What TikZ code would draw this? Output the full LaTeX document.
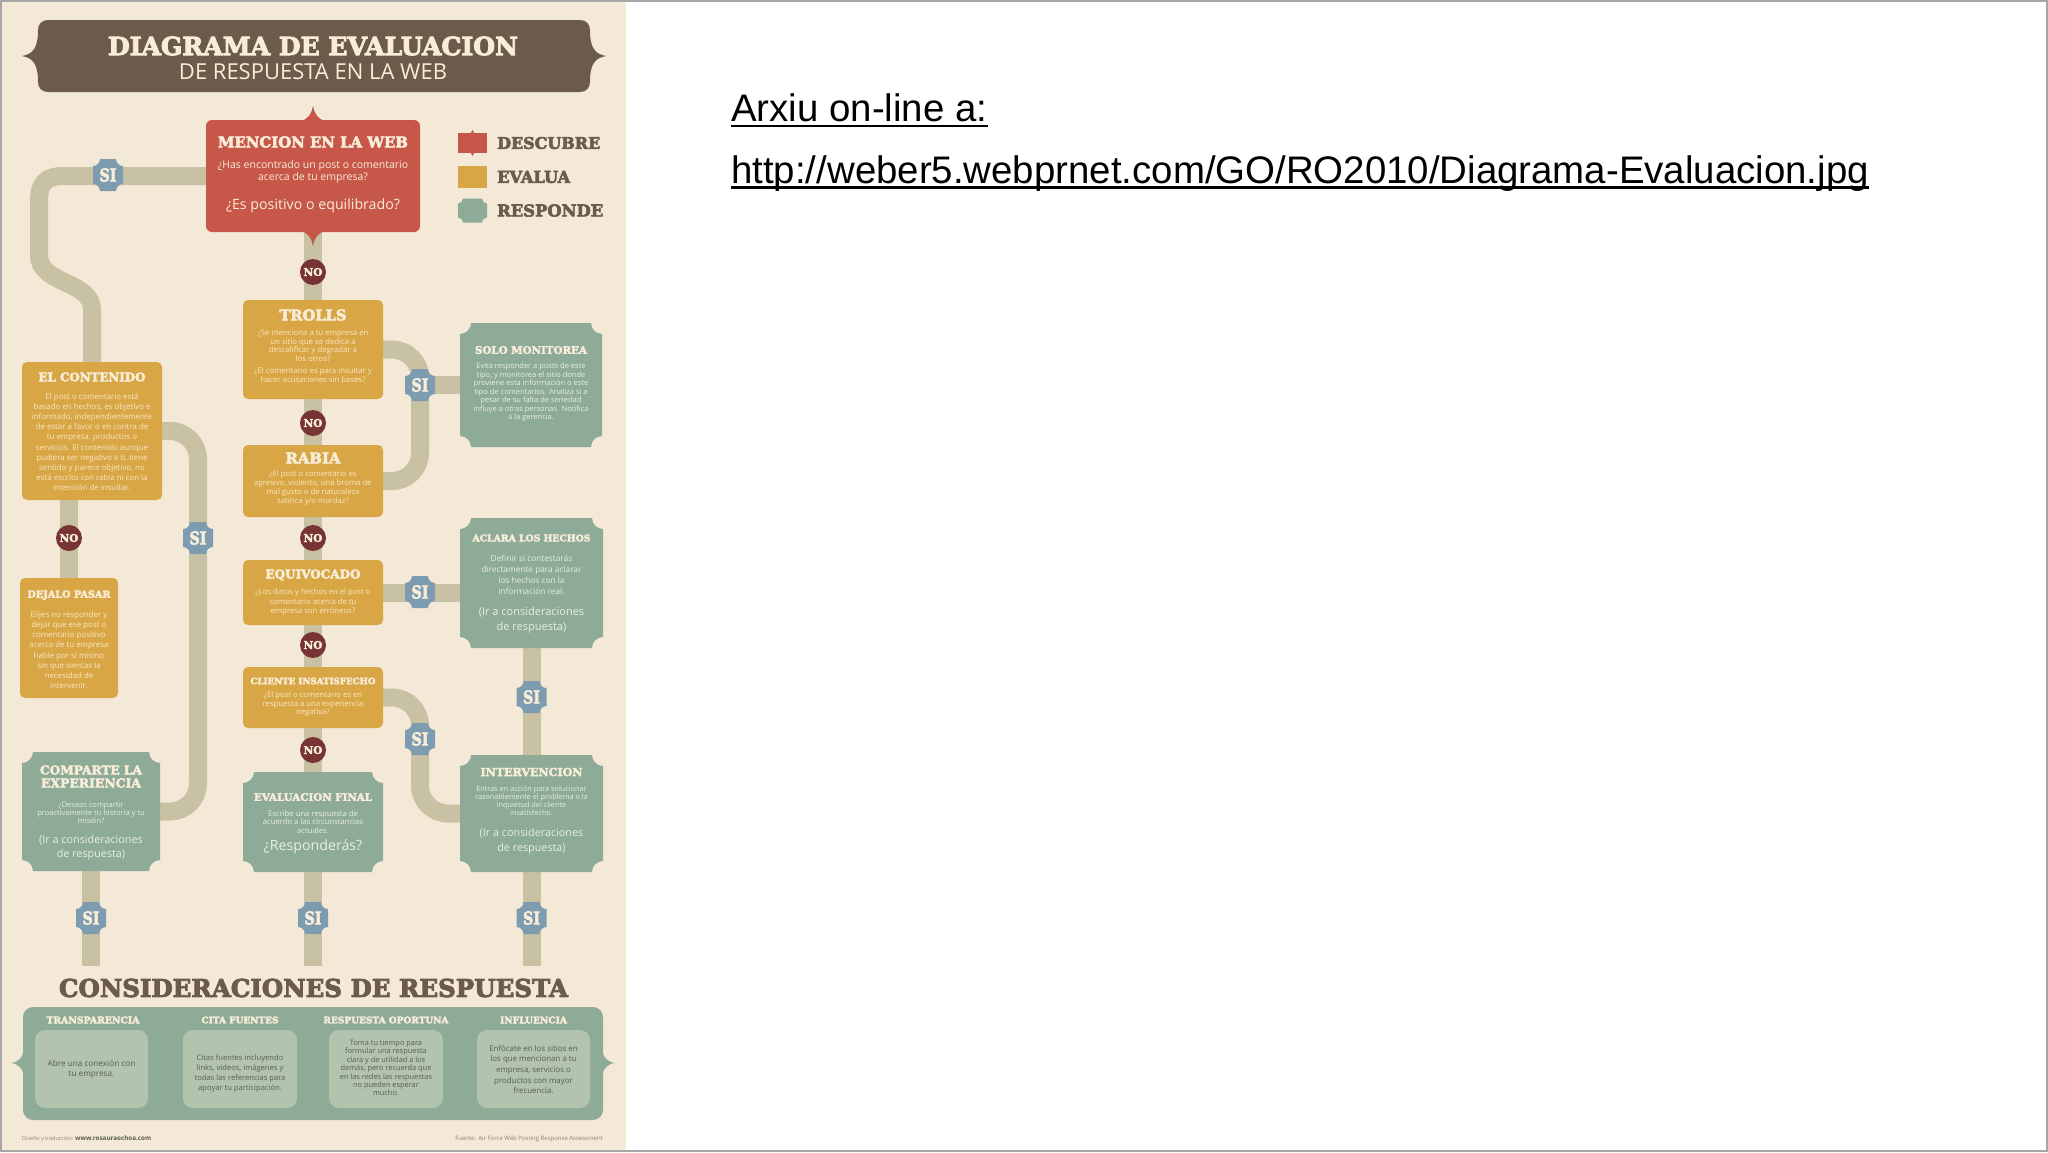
\documentclass[tikz,border=0pt]{standalone}
\usepackage{fontspec}
\usepackage{graphicx}
\setmainfont{Open Sans}
\newfontfamily\slab{DejaVu Serif}[BoldFeatures={FakeBold=3.5}]
\newfontfamily\arialf{Liberation Sans}
\usetikzlibrary{calc}
\definecolor{cream}{HTML}{F4E8D6}
\definecolor{brn}{HTML}{6C5B4B}
\definecolor{redc}{HTML}{C65749}
\definecolor{yel}{HTML}{D9A646}
\definecolor{grn}{HTML}{8DAB97}
\definecolor{grnl}{HTML}{B2C4AD}
\definecolor{sib}{HTML}{7D9CB0}
\definecolor{noc}{HTML}{783434}
\definecolor{connc}{HTML}{C9C1A3}
\definecolor{ttlc}{HTML}{F8EDD8}
\definecolor{ytxt}{HTML}{F8E7C3}
\definecolor{gtxt}{HTML}{E8EFE3}
\definecolor{dtxt}{HTML}{595D50}
\definecolor{foot}{HTML}{8A8478}
\pgfdeclarelayer{bgl}
\pgfdeclarelayer{conn}
\pgfsetlayers{bgl,conn,main}
\newcommand\fitt[2]{\resizebox{#1pt}{!}{\slab\bfseries #2}}
\newcommand\concbox[7]{%
 \pgfmathsetmacro\cbxa{#2-#4/2}\pgfmathsetmacro\cbxb{#2+#4/2}%
 \pgfmathsetmacro\cbya{#3-#5/2}\pgfmathsetmacro\cbyb{#3+#5/2}%
 \pgfmathsetmacro\cbr{#6}\pgfmathsetmacro\cbk{0.55*#6}%
 \fill[#7] ({\cbxa+\cbr},\cbya) -- ({\cbxb-\cbr},\cbya)
   .. controls ({\cbxb-\cbr},{\cbya+\cbk}) and ({\cbxb-\cbk},{\cbya+\cbr}) .. (\cbxb,{\cbya+\cbr})
   -- (\cbxb,{\cbyb-\cbr})
   .. controls ({\cbxb-\cbk},{\cbyb-\cbr}) and ({\cbxb-\cbr},{\cbyb-\cbk}) .. ({\cbxb-\cbr},\cbyb)
   -- ({\cbxa+\cbr},\cbyb)
   .. controls ({\cbxa+\cbr},{\cbyb-\cbk}) and ({\cbxa+\cbk},{\cbyb-\cbr}) .. (\cbxa,{\cbyb-\cbr})
   -- (\cbxa,{\cbya+\cbr})
   .. controls ({\cbxa+\cbk},{\cbya+\cbr}) and ({\cbxa+\cbr},{\cbya+\cbk}) .. ({\cbxa+\cbr},\cbya) -- cycle;
 \node[inner sep=0pt, minimum width=#4pt, minimum height=#5pt] (#1) at (#2,#3) {};}
\newcommand\sibadge[3]{\concbox{#1}{#2}{#3}{30}{32}{7}{sib}%
 \node[inner sep=0pt, text=ttlc] (#1-l) at (#2,#3) {\resizebox{17pt}{13pt}{\slab\bfseries SI}};}
\begin{document}
\begin{tikzpicture}[x=1pt,y=-1pt,
 conn/.style={draw=connc, line width=18pt},
 ybox/.style={fill=yel, rounded corners=5pt, inner sep=0pt},
 nob/.style={circle, fill=noc, minimum size=26pt, inner sep=0pt, text=ttlc, font=\fontsize{10.5}{11}\slab\bfseries},
 tx/.style={inner sep=0pt, align=center},
 ttl/.style={inner sep=0pt, text=ttlc},
 yb/.style={tx, text=ytxt},
 gb/.style={tx, text=gtxt},
 ib/.style={fill=grnl, rounded corners=10pt, inner sep=0pt, minimum height=78pt},
 db/.style={tx, text=dtxt},
 lbl/.style={inner sep=0pt, anchor=west, text=brn}]
\useasboundingbox (0,0) rectangle (2048,1152);
\begin{pgfonlayer}{bgl}
\fill[white] (0,0) rectangle (2048,1152);
\fill[cream] (0,0) rectangle (626,1152);
\draw[gray!70, line width=2pt] (1,1) rectangle (2047,1151);
\end{pgfonlayer}

% title banner
\fill[brn] (48,20) -- (580,20) .. controls (586,20) and (590,24) .. (590,30)
  .. controls (590,48) and (595,54) .. (606,56) .. controls (595,58) and (590,64) .. (590,82)
  .. controls (590,88) and (586,92) .. (580,92) -- (48,92)
  .. controls (42,92) and (38,88) .. (38,82) .. controls (38,64) and (33,58) .. (22,56)
  .. controls (33,54) and (38,48) .. (38,30) .. controls (38,24) and (42,20) .. (48,20) -- cycle;
\node[ttl] (title) at (313,46) {\fitt{410}{DIAGRAMA DE EVALUACION}};
\node[ttl] (subtitle) at (313,72) {\resizebox{268pt}{!}{DE RESPUESTA EN LA WEB}};

% mencion
\node[fill=redc, rounded corners=6pt, minimum width=214pt, minimum height=112pt, inner sep=0pt] (mencion) at (313,176) {};
\fill[redc] (300,121) .. controls (308,120) and (312,113) .. (313,106) .. controls (314,113) and (318,120) .. (326,121) -- cycle;
\fill[redc] (300,231) .. controls (308,232) and (312,239) .. (313,246) .. controls (314,239) and (318,232) .. (326,231) -- cycle;
\node[ttl] (mencion-t) at (313,142) {\fitt{190}{MENCION EN LA WEB}};
\node[tx, text=ttlc, font=\fontsize{10.5}{12}\selectfont] (mencion-b) at (313,172) {¿Has encontrado un post o comentario\\acerca de tu empresa?};
\node[tx, text=ttlc, font=\fontsize{14.2}{15}\selectfont] (mencion-q) at (313,205.5) {¿Es positivo o equilibrado?};

% legend
\node[fill=redc, minimum width=29pt, minimum height=20pt, inner sep=0pt] (lgr) at (472.5,143) {};
\fill[redc] (468,134) .. controls (471,133.5) and (472,132) .. (472.5,130) .. controls (473,132) and (474,133.5) .. (477,134) -- cycle;
\fill[redc] (468,152) .. controls (471,152.5) and (472,154) .. (472.5,156) .. controls (473,154) and (474,152.5) .. (477,152) -- cycle;
\node[fill=yel, minimum width=29pt, minimum height=22pt, inner sep=0pt] (lgy) at (472.5,177) {};
\concbox{lgg}{472.5}{210.5}{29}{24}{5}{grn}
\node[lbl] (lgr-t) at (497,143) {\fitt{103}{DESCUBRE}};
\node[lbl] (lgy-t) at (497,177) {\fitt{73}{EVALUA}};
\node[lbl] (lgg-t) at (497,210.5) {\fitt{106}{RESPONDE}};

% central column
\node[ybox, minimum width=140pt, minimum height=99pt] (trolls) at (313,349.5) {};
\node[ttl] (trolls-t) at (313,315) {\fitt{67}{TROLLS}};
\node[yb, font=\fontsize{7.8}{8.8}\selectfont] (trolls-b) at (313,356) {¿Se menciona a tu empresa en\\un sitio que se dedica a\\descalificar y degradar a\\los otros?\\[3pt]¿El comentario es para insultar y\\hacer acusaciones sin bases?};

\node[ybox, minimum width=140pt, minimum height=72pt] (rabia) at (313,481) {};
\node[ttl] (rabia-t) at (313,458) {\fitt{55}{RABIA}};
\node[yb, font=\fontsize{7.7}{9.3}\selectfont] (rabia-b) at (313,488) {¿El post o comentario es\\agresivo, violento, una broma de\\mal gusto o de naturaleza\\satírica y/o mordaz?};

\node[ybox, minimum width=140pt, minimum height=65pt] (equiv) at (313,592.5) {};
\node[ttl] (equiv-t) at (313,575) {\fitt{95}{EQUIVOCADO}};
\node[yb, font=\fontsize{7.7}{9.2}\selectfont] (equiv-b) at (313,602) {¿Los datos y hechos en el post o\\comentario acerca de tu\\empresa son erróneos?};

\node[ybox, minimum width=140pt, minimum height=61pt] (cliente) at (313,697.5) {};
\node[ttl] (cliente-t) at (313,681) {\fitt{125}{CLIENTE INSATISFECHO}};
\node[yb, font=\fontsize{7.7}{8.7}\selectfont] (cliente-b) at (313,704) {¿El post o comentario es en\\respuesta a una experiencia\\negativa?};

\concbox{evalf}{313}{822}{140}{100}{11}{grn}
\node[ttl] (evalf-t) at (313,797) {\fitt{118}{EVALUACION FINAL}};
\node[gb, font=\fontsize{7.7}{8.7}\selectfont] (evalf-b) at (313,822) {Escribe una respuesta de\\acuerdo a las circunstancias\\actuales.};
\node[gb, font=\fontsize{14.2}{16}\selectfont] (evalf-q) at (313,847) {¿Responderás?};

% left column
\node[ybox, minimum width=140pt, minimum height=138pt] (contenido) at (92,431) {};
\node[ttl] (contenido-t) at (92,377) {\fitt{107}{EL CONTENIDO}};
\node[yb, font=\fontsize{7.9}{10.2}\selectfont] (contenido-b) at (92,442) {El post o comentario está\\basado en hechos, es objetivo e\\informado, independientemente\\de estar a favor o en contra de\\tu empresa, productos o\\servicios. El contenido aunque\\pudiera ser negativo a ti, tiene\\sentido y parece objetivo, no\\está escrito con rabia ni con la\\intención de insultar.};

\node[ybox, minimum width=98pt, minimum height=120pt] (dejalo) at (69,638) {};
\node[ttl] (dejalo-t) at (69,595) {\fitt{83}{DEJALO PASAR}};
\node[yb, font=\fontsize{7.9}{10.2}\selectfont] (dejalo-b) at (69,650) {Elijes no responder y\\dejar que ese post o\\comentario positivo\\acerca de tu empresa\\hable por sí mismo\\sin que sientas la\\necesidad de\\intervenir.};

\concbox{comparte}{91}{811.5}{138}{119}{11}{grn}
\node[ttl] (comparte-t1) at (91,770) {\fitt{102}{COMPARTE LA}};
\node[ttl] (comparte-t2) at (91,783) {\fitt{100}{EXPERIENCIA}};
\node[gb, font=\fontsize{7.5}{8.2}\selectfont] (comparte-b) at (91,813) {¿Deseas compartir\\proactivamente tu historia y tu\\misión?};
\node[gb, font=\fontsize{10.8}{14.5}\selectfont] (comparte-c) at (91,847.5) {(Ir a consideraciones\\de respuesta)};

% right column
\concbox{solo}{531}{385}{142}{124}{11}{grn}
\node[ttl] (solo-t) at (531,350) {\fitt{112}{SOLO MONITOREA}};
\node[gb, font=\fontsize{7.5}{8.5}\selectfont] (solo-b) at (531,392.5) {Evita responder a posts de este\\tipo, y monitorea el sitio donde\\proviene esta información o este\\tipo de comentarios. Analiza si a\\pesar de su falta de seriedad\\influye a otras personas. Notifica\\a la gerencia.};

\concbox{aclara}{531.5}{583}{143}{130}{11}{grn}
\node[ttl] (aclara-t) at (531.5,538) {\fitt{118}{ACLARA LOS HECHOS}};
\node[gb, font=\fontsize{8.3}{11}\selectfont] (aclara-b) at (531.5,575) {Definir si contestarás\\directamente para aclarar\\los hechos con la\\información real.};
\node[gb, font=\fontsize{11}{15}\selectfont] (aclara-c) at (531.5,620) {(Ir a consideraciones\\de respuesta)};

\concbox{interv}{531.5}{813.5}{143}{117}{11}{grn}
\node[ttl] (interv-t) at (531.5,772) {\fitt{102}{INTERVENCION}};
\node[gb, font=\fontsize{7.3}{7.9}\selectfont] (interv-b) at (531.5,800.5) {Entras en acción para solucionar\\razonablemente el problema o la\\inquietud del cliente\\insatisfecho.};
\node[gb, font=\fontsize{10.8}{15}\selectfont] (interv-c) at (531.5,841) {(Ir a consideraciones\\de respuesta)};

% badges
\node[nob] (no1) at (313,272) {NO};
\node[nob] (no2) at (313,423) {NO};
\node[nob] (no3) at (313,538) {NO};
\node[nob] (no4) at (69,538) {NO};
\node[nob] (no5) at (313,645) {NO};
\node[nob] (no6) at (313,750) {NO};
\sibadge{si1}{108}{175}
\sibadge{si2}{420}{385}
\sibadge{si3}{198}{538}
\sibadge{si4}{420}{592}
\sibadge{si5}{531.5}{697}
\sibadge{si6}{420}{739}
\sibadge{si7}{91}{918}
\sibadge{si8}{313}{918}
\sibadge{si9}{531.5}{918}

\coordinate (e1) at (91,966);
\coordinate (e2) at (313,966);
\coordinate (e3) at (531.5,966);

% considerations
\node[text=brn, inner sep=0pt] (consh) at (313.5,988) {\fitt{509}{CONSIDERACIONES DE RESPUESTA}};
\node[fill=grn, rounded corners=10pt, minimum width=580pt, minimum height=113pt, inner sep=0pt] (cons) at (313,1063.5) {};
\fill[grn] (24,1046) .. controls (24,1057) and (19,1062) .. (11,1063) .. controls (19,1064) and (24,1069) .. (24,1080) -- cycle;
\fill[grn] (602,1046) .. controls (602,1057) and (607,1062) .. (615,1063) .. controls (607,1064) and (602,1069) .. (602,1080) -- cycle;
\node[ttl] (h1) at (93,1020) {\fitt{93}{TRANSPARENCIA}};
\node[ttl] (h2) at (240,1020) {\fitt{77}{CITA FUENTES}};
\node[ttl] (h3) at (386,1020) {\fitt{125}{RESPUESTA OPORTUNA}};
\node[ttl] (h4) at (533.5,1020) {\fitt{67}{INFLUENCIA}};
\node[ib, minimum width=113pt] (c1) at (91.5,1069) {};
\node[ib, minimum width=114pt] (c2) at (240,1069) {};
\node[ib, minimum width=114pt] (c3) at (386,1069) {};
\node[ib, minimum width=113pt] (c4) at (533.5,1069) {};
\node[db, font=\fontsize{8.2}{9.8}\selectfont] (c1-t) at (c1) {Abre una conexión con\\tu empresa.};
\node[db, font=\fontsize{7.6}{10}\selectfont] (c2-t) at (240,1073) {Citas fuentes incluyendo\\links, videos, imágenes y\\todas las referencias para\\apoyar tu participación.};
\node[db, font=\fontsize{7.4}{8.4}\selectfont] (c3-t) at (386,1068) {Toma tu tiempo para\\formular una respuesta\\clara y de utilidad a los\\demás, pero recuerda que\\en las redes las respuestas\\no pueden esperar\\mucho.};
\node[db, font=\fontsize{7.9}{10.7}\selectfont] (c4-t) at (533.5,1069.5) {Enfócate en los sitios en\\los que mencionan a tu\\empresa, servicios o\\productos con mayor\\frecuencia.};

% footers
\node[inner sep=0pt, anchor=west, text=foot, font=\fontsize{5.4}{6}\selectfont] (f1) at (22,1139) {Diseño y traducción: \textcolor{dtxt}{\fontsize{6.3}{7}\selectfont\bfseries www.rosauraochoa.com}};
\node[inner sep=0pt, anchor=east, text=foot, font=\fontsize{6}{7}\selectfont] (f2) at (603,1139) {Fuente: Air Force Web Posting Response Assessment};

% connectors
\begin{pgfonlayer}{conn}
\draw[conn] (mencion.west) -- (64,176) .. controls (46,176) and (39,183) .. (39,201) -- (39,255)
  .. controls (39,285) and (92,280) .. (92,310) -- (contenido.north);
\draw[conn, rounded corners=28pt] (contenido.east) -| (198,700) |- (comparte.east);
\draw[conn] (contenido.south -| dejalo.north) -- (dejalo.north);
\draw[conn] (mencion.south) -- (trolls.north);
\draw[conn] (trolls.south) -- (rabia.north);
\draw[conn] (rabia.south) -- (equiv.north);
\draw[conn] (equiv.south) -- (cliente.north);
\draw[conn] (cliente.south) -- (evalf.north);
\draw[conn] (evalf.south) -- (e2);
\draw[conn, rounded corners=28pt] (trolls.east) -| (420,420) |- (rabia.east);
\draw[conn] (si2) -- (solo.west);
\draw[conn] (equiv.east) -- (equiv.east -| aclara.west);
\draw[conn] (aclara.south) -- (interv.north);
\draw[conn, rounded corners=28pt] (cliente.east) -| (420,760) |- (interv.west);
\draw[conn] (comparte.south) -- (e1);
\draw[conn] (interv.south) -- (e3);
\end{pgfonlayer}

% slide text
\node[anchor=base west, inner sep=0pt, font=\arialf\fontsize{38.4}{46}\selectfont, text=black] (arx) at (731,121.5) {Arxiu on-line a:};
\draw[black, line width=2.2pt] ($(arx.base west)+(0,4.5)$) -- ($(arx.base east)+(0,4.5)$);
\node[anchor=base west, inner sep=0pt, font=\arialf\fontsize{38.4}{46}\selectfont, text=black] (url) at (731,183) {http://weber5.webprnet.com/GO/RO2010/Diagrama-Evaluacion.jpg};
\draw[black, line width=2.2pt] ($(url.base west)+(0,4.5)$) -- ($(url.base east)+(0,4.5)$);
\end{tikzpicture}
\end{document}
